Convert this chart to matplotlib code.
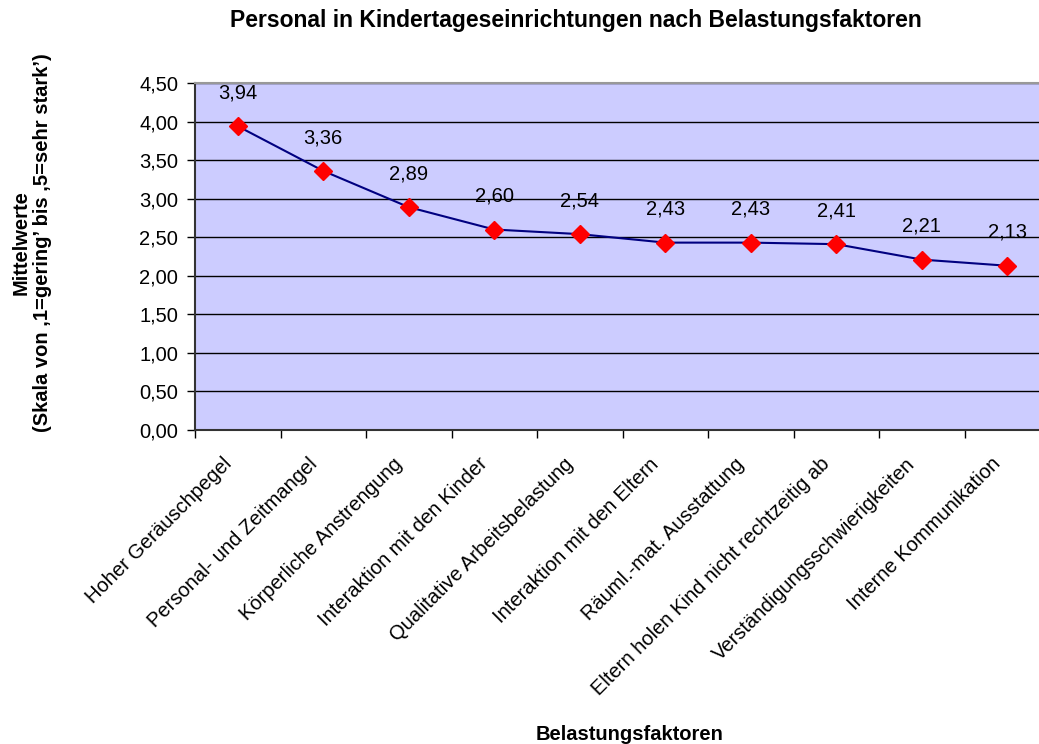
import matplotlib
matplotlib.use("Agg")
import matplotlib.pyplot as plt
from matplotlib.ticker import FixedLocator, NullFormatter, FixedFormatter
from matplotlib.transforms import ScaledTranslation

plt.rcParams['font.family'] = ['Liberation Sans', 'DejaVu Sans']

categories = ["Hoher Geräuschpegel", "Personal- und Zeitmangel", "Körperliche Anstrengung",
              "Interaktion mit den Kinder", "Qualitative Arbeitsbelastung", "Interaktion mit den Eltern",
              "Räuml.-mat. Ausstattung", "Eltern holen Kind nicht rechtzeitig ab",
              "Verständigungsschwierigkeiten", "Interne Kommunikation"]
values = [3.94, 3.36, 2.89, 2.60, 2.54, 2.43, 2.43, 2.41, 2.21, 2.13]
yticks = [0.0, 0.5, 1.0, 1.5, 2.0, 2.5, 3.0, 3.5, 4.0, 4.5]

W, H = 1039, 744
fig = plt.figure(figsize=(W / 100, H / 100), dpi=100)
ax = fig.add_axes([195 / W, (H - 430) / H, 855 / W, (430 - 83) / H])
ax.set_facecolor('#CCCCFF')

n = len(values)
x = list(range(n))
ax.plot(x, values, color='#000080', lw=1.5, marker='D', markersize=9.5,
        markerfacecolor='red', markeredgecolor='red', zorder=3, clip_on=False)
for xi, v in zip(x, values):
    ax.annotate(f"{v:.2f}".replace('.', ','), (xi, v), xytext=(0, 24), textcoords='offset points',
                ha='center', va='center', fontsize=14.5)

ax.set_xlim(-0.5, n - 0.5)
ax.set_ylim(0, 4.5)
ax.set_yticks(yticks)
ax.set_yticklabels([f"{t:.2f}".replace('.', ',') for t in yticks], fontsize=14.5)
ax.yaxis.grid(True, color='black', lw=1)
ax.set_axisbelow(True)

ax.xaxis.set_major_locator(FixedLocator([i - 0.5 for i in range(n + 1)]))
ax.xaxis.set_major_formatter(NullFormatter())
ax.xaxis.set_minor_locator(FixedLocator(x))
ax.xaxis.set_minor_formatter(FixedFormatter(categories))
ax.tick_params(axis='x', which='minor', length=0, pad=6)
ax.tick_params(axis='x', which='major', length=6, direction='out', width=1)
ax.tick_params(axis='y', length=6, direction='out', width=1, pad=6)
offset = ScaledTranslation(-0.16, -0.16, fig.dpi_scale_trans)
for lbl in ax.get_xticklabels(minor=True):
    lbl.set_rotation(45)
    lbl.set_ha('right')
    lbl.set_rotation_mode('anchor')
    lbl.set_fontsize(14.5)
    lbl.set_transform(lbl.get_transform() + offset)

for s in ['left', 'bottom']:
    ax.spines[s].set_color('#333333')
    ax.spines[s].set_linewidth(1.5)
ax.spines['top'].set_color('#999999')
ax.spines['top'].set_linewidth(1.5)
ax.spines['right'].set_visible(False)

fig.text(576 / W, 1 - 21 / H, "Personal in Kindertageseinrichtungen nach Belastungsfaktoren",
         ha='center', va='center', fontsize=16.5, fontweight='bold')
fig.text(630 / W, 1 - 735 / H, "Belastungsfaktoren", ha='center', va='center',
         fontsize=14.5, fontweight='bold')
fig.text(32 / W, 1 - 243 / H, "Mittelwerte\n(Skala von \u201a1=gering\u2019 bis \u201a5=sehr stark\u2019)",
         ha='center', va='center', rotation=90, fontsize=14.5, fontweight='bold', linespacing=1.15)

fig.savefig("out.png", dpi=100)
